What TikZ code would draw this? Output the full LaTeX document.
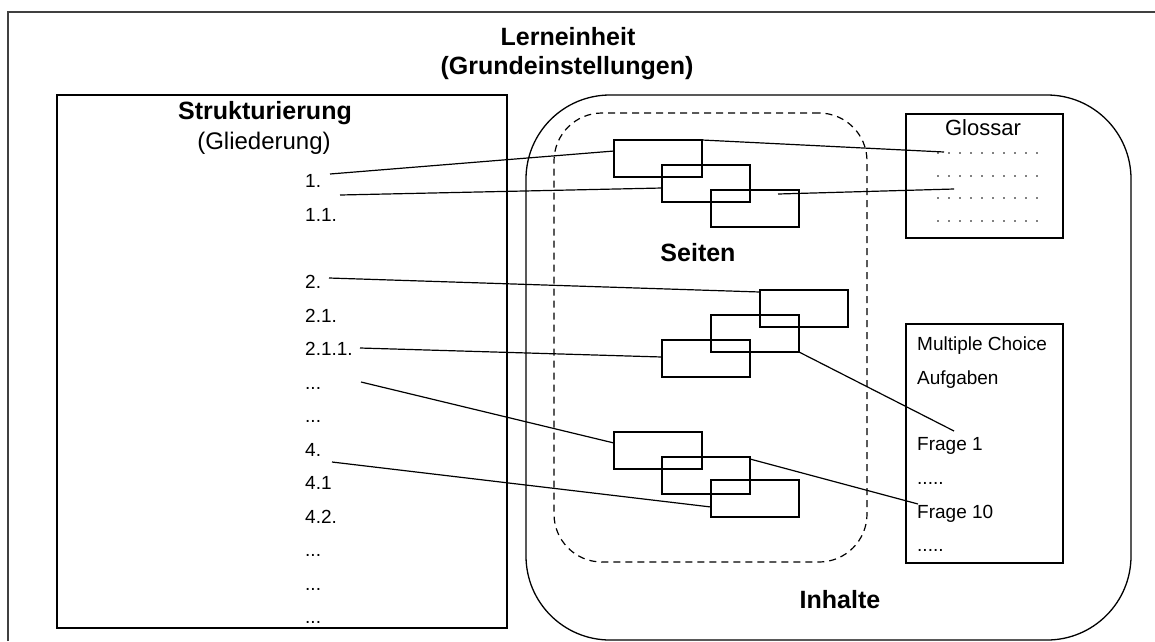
\documentclass[tikz,border=0pt]{standalone}
\usepackage{fontspec}
\setmainfont{Liberation Sans}
\begin{document}
\begin{tikzpicture}[x=1pt,y=-1pt,
  box/.style={draw, line width=1.5pt, inner sep=0pt, outer sep=0pt, anchor=north west},
  pg/.style={draw, line width=1.5pt, minimum width=88pt, minimum height=37pt, inner sep=0pt, outer sep=0pt, anchor=north west},
  conn/.style={line width=1.2pt},
  bigt/.style={font=\fontsize{25}{25}\selectfont\bfseries, inner sep=0pt},
  midt/.style={font=\fontsize{24}{24}\selectfont, inner sep=0pt},
  smt/.style={font=\fontsize{19}{19}\selectfont, anchor=base west, inner sep=0pt},
]
\useasboundingbox (0,0) rectangle (1155,641);
% outer frame
\draw[line width=1.8pt, draw=black!75] (8,641) -- (8,12) -- (1155,12);
\node[bigt] (title) at (568,37) {Lerneinheit};
\node[bigt] (title2) at (567,68) {(Grundeinstellungen)};

% left structure box
\node[box, minimum width=450pt, minimum height=533pt] (struct) at (57,95) {};
\node[bigt] (strukt) at (265,113) {Strukturierung};
\node[midt] (glied) at (264,143) {(Gliederung)};
\node[smt] (i1) at (305,187) {1.};
\node[smt] (i2) at (305,221) {1.1.};
\node[smt] (i3) at (305,288.5) {2.};
\node[smt] (i4) at (305,322) {2.1.};
\node[smt] (i5) at (305,355.5) {2.1.1.};
\node[smt] (i6) at (305,389) {...};
\node[smt] (i7) at (305,422.5) {...};
\node[smt] (i8) at (305,456) {4.};
\node[smt] (i9) at (305,489.5) {4.1};
\node[smt] (i10) at (305,523) {4.2.};
\node[smt] (i11) at (305,556.5) {...};
\node[smt] (i12) at (305,590) {...};
\node[smt] (i13) at (305,623.5) {...};

% content box
\node[box, line width=1.3pt, rounded corners=84pt, minimum width=605pt, minimum height=545pt] (inh) at (526,95) {};
\node[box, line width=1.2pt, dash pattern=on 7pt off 5pt, rounded corners=48pt, minimum width=313pt, minimum height=449pt] (seitenbox) at (554,113) {};
\node[bigt] (seiten) at (698,253) {Seiten};
\node[bigt] (inhalte) at (840,600) {Inhalte};

% Glossar
\node[box, minimum width=157pt, minimum height=124pt] (gloss) at (906,114) {};
\node[font=\fontsize{22}{22}\selectfont, inner sep=0pt] (glosst) at (983,128) {Glossar};
\foreach \r in {153,176,198,221}
  \foreach \i in {0,...,9}
    \fill (938+11*\i,\r) circle (0.9pt);

% Multiple choice
\node[box, minimum width=157pt, minimum height=239pt] (mc) at (906,324) {};
\node[smt] (mc1) at (917,350) {Multiple Choice};
\node[smt] (mc2) at (917,384) {Aufgaben};
\node[smt] (mc3) at (917,450) {Frage 1};
\node[smt] (mc4) at (917,484) {.....};
\node[smt] (mc5) at (917,518) {Frage 10};
\node[smt] (mc6) at (917,551) {.....};

% pages
\node[pg] (r1) at (614,140) {};
\node[pg] (r2) at (662,165) {};
\node[pg] (r3) at (711,190) {};
\node[pg] (m1) at (760,290) {};
\node[pg] (m2) at (711,315) {};
\node[pg] (m3) at (662,340) {};
\node[pg] (b1) at (614,432) {};
\node[pg] (b2) at (662,457) {};
\node[pg] (b3) at (711,480) {};

% connector ends
\coordinate (a0) at (330,174);
\coordinate (b0) at (340,195);
\coordinate (c0) at (329,278);
\coordinate (d0) at (360,348);
\coordinate (e0) at (361,382);
\coordinate (g0) at (332,462);
\coordinate (gl1) at (944,152);
\coordinate (gl2) at (954,189);
\coordinate (fr1) at (954,431);
\coordinate (fr10) at (918,504);

\draw[conn] (a0) -- ([yshift=-11pt]r1.north west);
\draw[conn] (r1.north east) -- (gl1);
\draw[conn] (b0) -- ([yshift=-23pt]r2.north west);
\draw[conn] ([xshift=-21pt,yshift=-4pt]r3.north east) -- (gl2);
\draw[conn] (c0) -- ([yshift=-2pt]m1.north west);
\draw[conn] (d0) -- ([yshift=-17pt]m3.north west);
\draw[conn] (m2.south east) -- (fr1);
\draw[conn] (e0) -- ([yshift=-11pt]b1.north west);
\draw[conn] (g0) -- ([yshift=-27pt]b3.north west);
\draw[conn] ([yshift=-2pt]b2.north east) -- (fr10);
\end{tikzpicture}
\end{document}
